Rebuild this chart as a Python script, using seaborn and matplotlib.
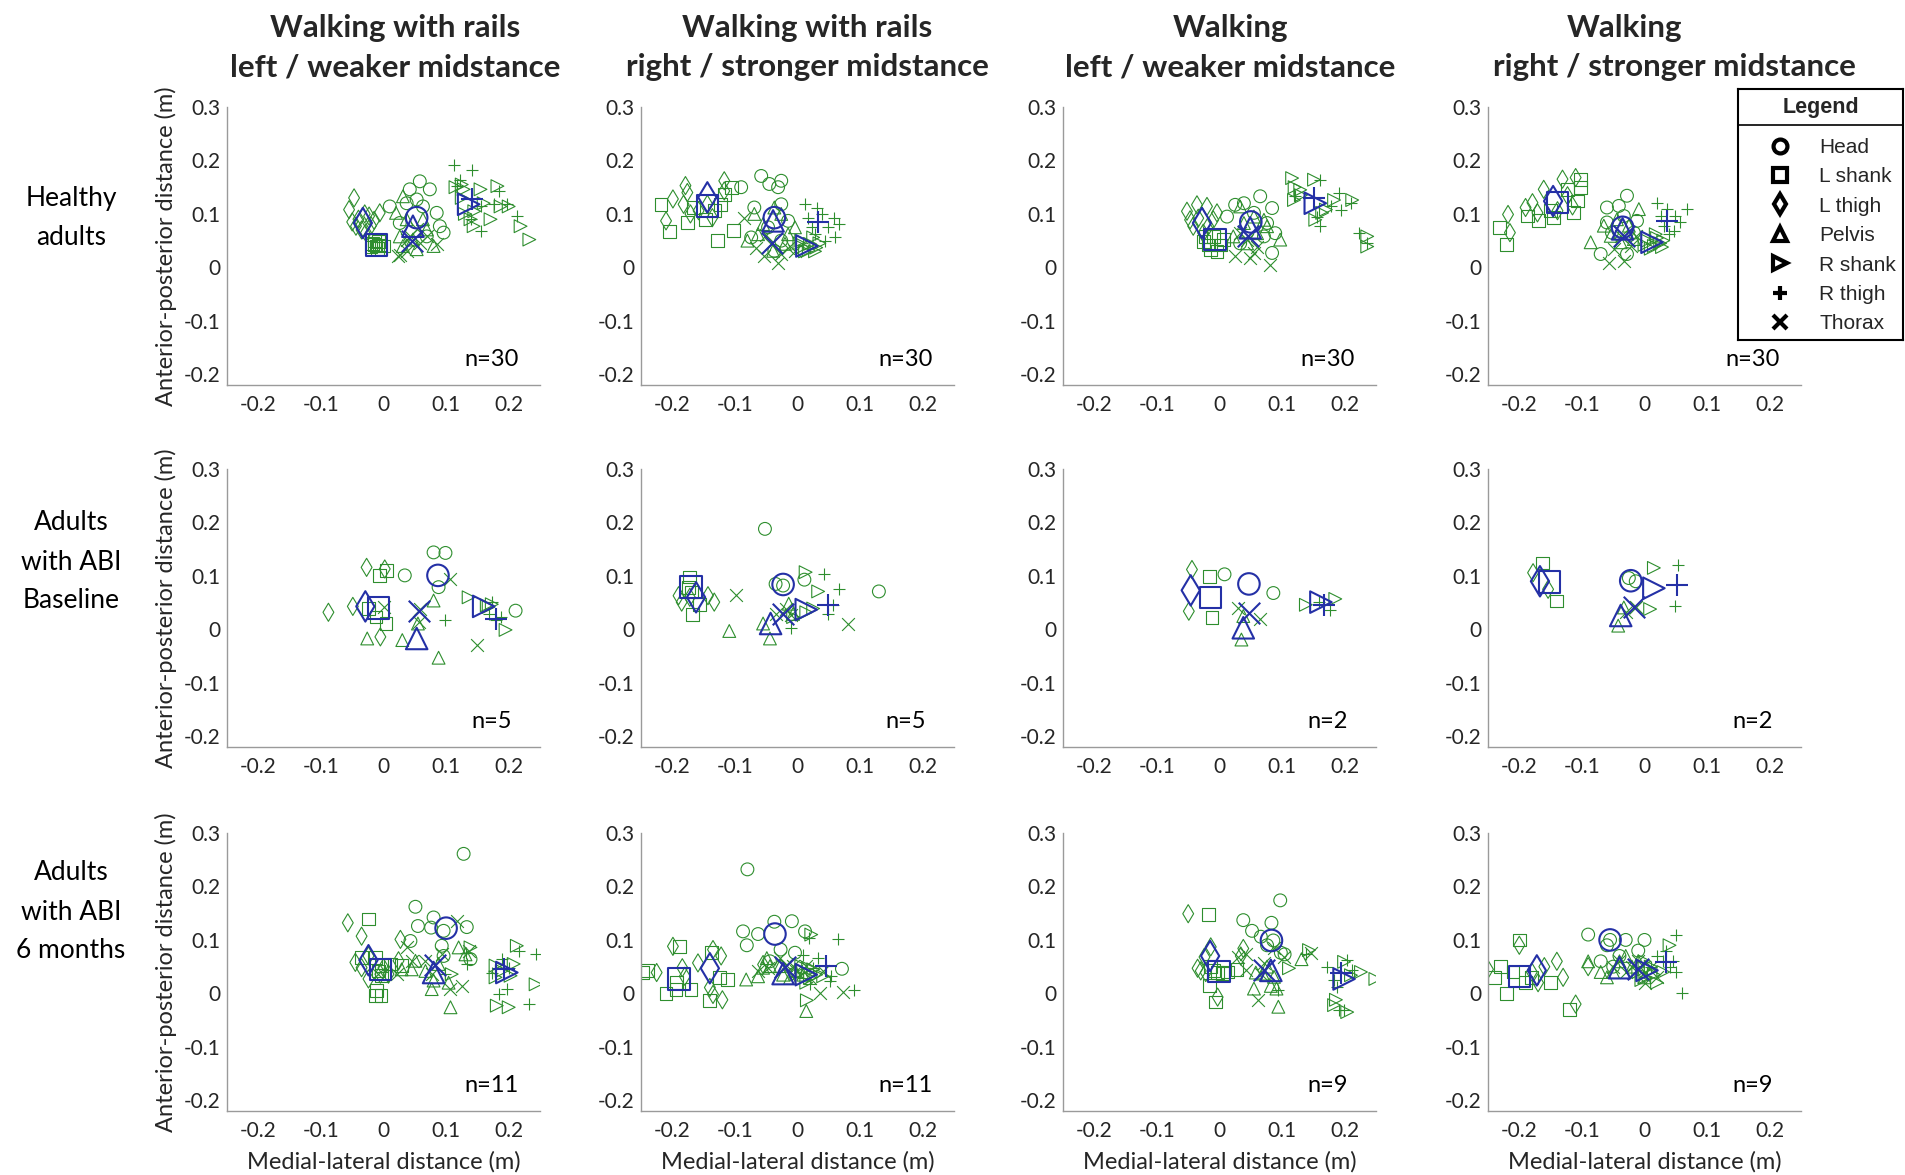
import matplotlib
matplotlib.use("Agg")
import matplotlib.pyplot as plt
from matplotlib.lines import Line2D
from matplotlib.ticker import FuncFormatter
import pandas as pd
import seaborn as sns

# ---- data ----
SEGMENTS = ["Head", "L shank", "L thigh", "Pelvis", "R shank", "R thigh", "Thorax"]
MARKERS = {"Head": "o", "L shank": "s", "L thigh": "d", "Pelvis": "^",
           "R shank": ">", "R thigh": "+", "Thorax": "x"}

COL_TITLES = [("Walking with rails", "left / weaker midstance"),
              ("Walking with rails", "right / stronger midstance"),
              ("Walking", "left / weaker midstance"),
              ("Walking", "right / stronger midstance")]
ROW_LABELS = ["Healthy\nadults", "Adults\nwith ABI\nBaseline", "Adults\nwith ABI\n6 months"]
N_LABELS = [[30, 30, 30, 30], [5, 5, 2, 2], [11, 11, 9, 9]]

# healthy adults
healthy_rails_left = {
    "Head": [(0.058, 0.161), (0.074, 0.146), (0.042, 0.146), (0.01, 0.114), (0.085, 0.102), (0.09, 0.077),
             (0.096, 0.065), (0.069, 0.058), (0.026, 0.083), (0.037, 0.12), (0.063, 0.114), (0.053, 0.127)],
    "L shank": [(-0.018, 0.045), (-0.012, 0.04), (-0.006, 0.042), (-0.015, 0.05), (0.0, 0.04), (-0.01, 0.035),
                (-0.02, 0.038), (-0.008, 0.048), (-0.004, 0.036), (-0.014, 0.043)],
    "L thigh": [(-0.047, 0.13), (-0.055, 0.108), (-0.044, 0.077), (-0.023, 0.096), (-0.006, 0.102), (-0.028, 0.065),
                (-0.04, 0.09), (-0.02, 0.078), (-0.05, 0.085), (-0.035, 0.07), (-0.03, 0.1), (-0.015, 0.088)],
    "Pelvis": [(0.031, 0.133), (0.026, 0.058), (0.053, 0.034), (0.08, 0.04), (0.037, 0.09), (0.02, 0.102),
               (0.063, 0.09), (0.047, 0.052), (0.031, 0.04), (0.069, 0.071)],
    "R shank": [(0.233, 0.052), (0.219, 0.077), (0.2, 0.114), (0.171, 0.09), (0.144, 0.077), (0.155, 0.146),
                (0.187, 0.114), (0.16, 0.12), (0.128, 0.146), (0.139, 0.09), (0.182, 0.152), (0.125, 0.13),
                (0.13, 0.1), (0.145, 0.105), (0.115, 0.15), (0.125, 0.155)],
    "R thigh": [(0.112, 0.192), (0.141, 0.183), (0.184, 0.142), (0.214, 0.096), (0.117, 0.152), (0.176, 0.118),
                (0.155, 0.114), (0.155, 0.068), (0.198, 0.118), (0.123, 0.164), (0.139, 0.09)],
    "Thorax": [(0.026, 0.024), (0.037, 0.03), (0.085, 0.043), (0.042, 0.058), (0.053, 0.071), (0.023, 0.021),
               (0.058, 0.046), (0.037, 0.052), (0.069, 0.058)],
}
healthy_rails_left_mean = {"Head": (0.053, 0.093), "L shank": (-0.011, 0.042), "L thigh": (-0.033, 0.083),
                           "Pelvis": (0.047, 0.077), "R shank": (0.136, 0.118), "R thigh": (0.141, 0.127),
                           "Thorax": (0.045, 0.05)}

healthy_rails_right = {
    "Head": [(-0.058, 0.171), (-0.045, 0.156), (-0.026, 0.162), (-0.031, 0.15), (-0.069, 0.112), (-0.026, 0.118),
             (-0.015, 0.087), (-0.074, 0.056), (-0.037, 0.031), (-0.09, 0.15), (-0.047, 0.075), (-0.026, 0.05)],
    "L shank": [(-0.218, 0.118), (-0.204, 0.067), (-0.176, 0.084), (-0.128, 0.05), (-0.102, 0.069), (-0.147, 0.09),
                (-0.133, 0.106), (-0.117, 0.137), (-0.106, 0.15), (-0.166, 0.112), (-0.123, 0.118)],
    "L thigh": [(-0.21, 0.087), (-0.199, 0.128), (-0.179, 0.153), (-0.176, 0.14), (-0.171, 0.1), (-0.136, 0.093),
                (-0.117, 0.162), (-0.117, 0.143), (-0.144, 0.118), (-0.182, 0.118), (-0.158, 0.106)],
    "Pelvis": [(-0.08, 0.05), (-0.063, 0.062), (-0.039, 0.031), (-0.015, 0.062), (-0.026, 0.1), (-0.055, 0.081),
               (-0.037, 0.112), (-0.004, 0.075), (-0.069, 0.1), (-0.02, 0.044)],
    "R shank": [(0.006, 0.05), (0.02, 0.044), (0.03, 0.037), (0.012, 0.03), (0.025, 0.056), (0.008, 0.038),
                (0.035, 0.045), (0.018, 0.032), (0.003, 0.045), (0.028, 0.03)],
    "R thigh": [(0.012, 0.118), (0.031, 0.112), (0.058, 0.093), (0.06, 0.056), (0.044, 0.05), (0.023, 0.075),
                (0.049, 0.075), (0.039, 0.1), (0.017, 0.093), (0.066, 0.081), (0.028, 0.062)],
    "Thorax": [(-0.085, 0.093), (-0.053, 0.022), (-0.031, 0.009), (-0.026, 0.025), (-0.015, 0.037), (-0.042, 0.044),
               (-0.004, 0.031), (-0.066, 0.037), (-0.05, 0.06)],
}
healthy_rails_right_mean = {"Head": (-0.037, 0.093), "L shank": (-0.144, 0.115), "L thigh": (-0.144, 0.131),
                            "Pelvis": (-0.039, 0.087), "R shank": (0.015, 0.04), "R thigh": (0.032, 0.084),
                            "Thorax": (-0.04, 0.045)}

healthy_walk_left = {
    "Head": [(0.025, 0.117), (0.039, 0.12), (0.065, 0.133), (0.084, 0.111), (0.089, 0.064), (0.084, 0.027),
             (0.012, 0.095), (0.055, 0.102), (0.071, 0.058), (0.033, 0.045), (0.076, 0.083)],
    "L shank": [(-0.026, 0.049), (-0.015, 0.033), (0.001, 0.042), (-0.01, 0.058), (-0.018, 0.042), (-0.004, 0.03),
                (0.006, 0.052), (-0.023, 0.058)],
    "L thigh": [(-0.052, 0.105), (-0.036, 0.117), (-0.02, 0.114), (-0.042, 0.077), (-0.026, 0.064), (-0.01, 0.089),
                (-0.004, 0.102), (-0.034, 0.092), (-0.018, 0.077), (-0.047, 0.089)],
    "Pelvis": [(0.033, 0.114), (0.071, 0.089), (0.097, 0.052), (0.022, 0.058), (0.044, 0.045), (0.055, 0.095),
               (0.039, 0.083), (0.06, 0.064), (0.076, 0.077)],
    "R shank": [(0.116, 0.167), (0.119, 0.126), (0.151, 0.164), (0.164, 0.102), (0.153, 0.089), (0.183, 0.126),
                (0.212, 0.126), (0.236, 0.058), (0.236, 0.039), (0.17, 0.108), (0.129, 0.145), (0.12, 0.15),
                (0.13, 0.135)],
    "R thigh": [(0.161, 0.164), (0.191, 0.139), (0.194, 0.108), (0.161, 0.077), (0.223, 0.064), (0.236, 0.045),
                (0.121, 0.133), (0.178, 0.114), (0.156, 0.095), (0.21, 0.12)],
    "Thorax": [(0.025, 0.021), (0.049, 0.017), (0.081, 0.005), (0.044, 0.052), (0.033, 0.064), (0.06, 0.039),
               (0.055, 0.027)],
}
healthy_walk_left_mean = {"Head": (0.05, 0.085), "L shank": (-0.007, 0.052), "L thigh": (-0.028, 0.083),
                          "Pelvis": (0.049, 0.074), "R shank": (0.153, 0.12), "R thigh": (0.151, 0.13),
                          "Thorax": (0.046, 0.058)}

healthy_walk_right = {
    "Head": [(-0.028, 0.134), (-0.06, 0.112), (-0.041, 0.115), (-0.012, 0.087), (-0.07, 0.025), (-0.028, 0.025),
             (-0.052, 0.065), (-0.017, 0.065), (-0.06, 0.084), (-0.033, 0.096)],
    "L shank": [(-0.231, 0.075), (-0.22, 0.043), (-0.187, 0.096), (-0.169, 0.087), (-0.145, 0.093), (-0.113, 0.102),
                (-0.102, 0.165), (-0.102, 0.149), (-0.107, 0.124), (-0.123, 0.146), (-0.15, 0.106)],
    "L thigh": [(-0.218, 0.099), (-0.215, 0.065), (-0.19, 0.112), (-0.179, 0.121), (-0.161, 0.146), (-0.131, 0.165),
                (-0.11, 0.168), (-0.123, 0.134), (-0.139, 0.106), (-0.171, 0.102), (-0.115, 0.115)],
    "Pelvis": [(-0.086, 0.047), (-0.065, 0.078), (-0.009, 0.109), (-0.044, 0.09), (-0.017, 0.053), (-0.038, 0.047),
               (-0.054, 0.059), (-0.025, 0.078)],
    "R shank": [(0.005, 0.05), (0.015, 0.04), (0.025, 0.045), (0.02, 0.055), (0.01, 0.035), (0.03, 0.05),
                (0.0, 0.042), (0.018, 0.062), (0.028, 0.038)],
    "R thigh": [(0.02, 0.121), (0.036, 0.109), (0.068, 0.109), (0.049, 0.096), (0.047, 0.068), (0.031, 0.078),
                (0.026, 0.096), (0.057, 0.084), (0.039, 0.062)],
    "Thorax": [(-0.057, 0.009), (-0.033, 0.012), (-0.049, 0.034), (-0.022, 0.04), (-0.038, 0.059), (-0.014, 0.059)],
}
healthy_walk_right_mean = {"Head": (-0.035, 0.075), "L shank": (-0.139, 0.121), "L thigh": (-0.146, 0.124),
                           "Pelvis": (-0.035, 0.072), "R shank": (0.012, 0.047), "R thigh": (0.036, 0.087),
                           "Thorax": (-0.033, 0.059)}

# adults with ABI, baseline
abi_base_rails_left = {
    "Head": [(0.08, 0.144), (0.099, 0.143), (0.034, 0.101), (0.088, 0.079), (0.211, 0.035)],
    "L shank": [(-0.007, 0.101), (0.005, 0.11), (-0.024, 0.039), (-0.012, 0.023), (0.004, 0.011)],
    "L thigh": [(-0.027, 0.116), (0.002, 0.113), (-0.088, 0.032), (-0.049, 0.043), (-0.005, -0.014)],
    "Pelvis": [(-0.026, -0.017), (0.03, -0.02), (0.055, 0.011), (0.08, 0.054), (0.088, -0.053)],
    "R shank": [(0.136, 0.06), (0.165, 0.045), (0.195, -0.001), (0.168, 0.042), (0.173, 0.047)],
    "R thigh": [(0.099, 0.018), (0.173, 0.051), (0.179, 0.017), (0.187, 0.023), (0.168, 0.029)],
    "Thorax": [(0.107, 0.094), (0.149, -0.03), (0.059, 0.039), (0.056, 0.014), (0.0, 0.042)],
}
abi_base_rails_left_mean = {"Head": (0.087, 0.101), "L shank": (-0.008, 0.04), "L thigh": (-0.029, 0.043),
                            "Pelvis": (0.053, -0.017), "R shank": (0.16, 0.043), "R thigh": (0.179, 0.019),
                            "Thorax": (0.056, 0.035)}

abi_base_rails_right = {
    "Head": [(-0.052, 0.188), (-0.035, 0.085), (-0.023, 0.082), (0.011, 0.093), (0.13, 0.071)],
    "L shank": [(-0.172, 0.098), (-0.174, 0.079), (-0.168, 0.028), (-0.156, 0.046), (-0.169, 0.07)],
    "L thigh": [(-0.19, 0.063), (-0.185, 0.051), (-0.143, 0.063), (-0.133, 0.051), (-0.172, 0.06)],
    "Pelvis": [(-0.109, -0.003), (-0.044, -0.017), (-0.055, 0.011), (-0.014, 0.048), (-0.007, 0.029)],
    "R shank": [(0.013, 0.107), (0.033, 0.071), (0.014, 0.032), (-0.007, 0.023), (0.025, 0.039)],
    "R thigh": [(0.042, 0.104), (0.066, 0.076), (0.049, 0.028), (-0.011, 0.003), (0.057, 0.045)],
    "Thorax": [(-0.098, 0.065), (0.081, 0.011), (-0.034, 0.029), (-0.01, 0.026), (-0.018, 0.039)],
}
abi_base_rails_right_mean = {"Head": (-0.023, 0.084), "L shank": (-0.17, 0.079), "L thigh": (-0.162, 0.06),
                             "Pelvis": (-0.043, 0.011), "R shank": (0.014, 0.037), "R thigh": (0.049, 0.046),
                             "Thorax": (-0.023, 0.029)}

abi_base_walk_left = {
    "Head": [(0.008, 0.103), (0.086, 0.068)],
    "L shank": [(-0.016, 0.099), (-0.012, 0.022)],
    "L thigh": [(-0.044, 0.112), (-0.049, 0.034)],
    "Pelvis": [(0.035, -0.019), (0.038, 0.025)],
    "R shank": [(0.138, 0.046), (0.185, 0.057)],
    "R thigh": [(0.159, 0.052), (0.177, 0.037)],
    "Thorax": [(0.03, 0.04), (0.064, 0.019)],
}
abi_base_walk_left_mean = {"Head": (0.047, 0.085), "L shank": (-0.014, 0.06), "L thigh": (-0.046, 0.073),
                           "Pelvis": (0.038, 0.003), "R shank": (0.162, 0.051), "R thigh": (0.167, 0.046),
                           "Thorax": (0.047, 0.03)}

abi_base_walk_right = {
    "Head": [(-0.025, 0.096), (-0.014, 0.09)],
    "L shank": [(-0.163, 0.124), (-0.141, 0.053)],
    "L thigh": [(-0.178, 0.106), (-0.154, 0.075)],
    "Pelvis": [(-0.042, 0.007), (-0.033, 0.041)],
    "R shank": [(0.015, 0.115), (0.009, 0.038)],
    "R thigh": [(0.053, 0.121), (0.049, 0.044)],
    "Thorax": [(-0.014, 0.041), (-0.03, 0.032)],
}
abi_base_walk_right_mean = {"Head": (-0.022, 0.091), "L shank": (-0.152, 0.089), "L thigh": (-0.167, 0.09),
                            "Pelvis": (-0.038, 0.026), "R shank": (0.015, 0.077), "R thigh": (0.052, 0.083),
                            "Thorax": (-0.017, 0.042)}

# adults with ABI, 6 months
abi_6m_rails_left = {
    "Head": [(0.128, 0.261), (0.051, 0.162), (0.08, 0.142), (0.055, 0.126), (0.076, 0.123), (0.133, 0.124),
             (0.043, 0.098), (0.093, 0.089), (0.096, 0.07), (0.139, 0.064), (0.096, 0.117)],
    "L shank": [(-0.024, 0.139), (-0.013, 0.067), (-0.003, 0.052), (-0.008, 0.042), (-0.011, 0.005), (-0.004, -0.004),
                (-0.013, -0.004), (0.029, 0.052), (0.011, 0.055), (-0.003, 0.033), (-0.035, 0.067)],
    "L thigh": [(-0.057, 0.132), (-0.035, 0.107), (0.027, 0.101), (-0.045, 0.058), (-0.024, 0.027), (-0.005, 0.036),
                (0.008, 0.036), (-0.035, 0.048), (0.024, 0.061), (-0.024, 0.07), (0.0, 0.048)],
    "Pelvis": [(0.107, -0.026), (0.12, 0.086), (0.051, 0.061), (0.029, 0.045), (0.045, 0.045), (0.077, 0.008),
               (0.104, 0.02), (0.088, 0.055), (0.067, 0.042), (0.08, 0.024), (0.131, 0.073)],
    "R shank": [(0.213, 0.089), (0.243, 0.017), (0.181, -0.023), (0.2, -0.026), (0.179, 0.052), (0.179, 0.03),
                (0.139, 0.086), (0.109, 0.036), (0.208, 0.055), (0.189, 0.042), (0.203, 0.033)],
    "R thigh": [(0.243, 0.073), (0.216, 0.08), (0.232, -0.02), (0.184, -0.001), (0.197, 0.008), (0.131, 0.076),
                (0.133, 0.055), (0.173, 0.039), (0.2, 0.048), (0.189, 0.064), (0.099, 0.036)],
    "Thorax": [(0.117, 0.135), (0.037, 0.086), (0.125, 0.014), (0.107, 0.008), (0.077, 0.036), (0.067, 0.061),
               (0.045, 0.061), (0.093, 0.073), (0.136, 0.08), (0.021, 0.036), (-0.008, 0.036)],
}
abi_6m_rails_left_mean = {"Head": (0.1, 0.122), "L shank": (-0.005, 0.045), "L thigh": (-0.024, 0.062),
                          "Pelvis": (0.08, 0.039), "R shank": (0.197, 0.039), "R thigh": (0.192, 0.045),
                          "Thorax": (0.082, 0.053)}

abi_6m_rails_right = {
    "Head": [(-0.08, 0.232), (-0.087, 0.116), (-0.081, 0.09), (-0.063, 0.111), (-0.037, 0.134), (-0.009, 0.135),
             (-0.027, 0.082), (-0.004, 0.076), (0.012, 0.116), (0.071, 0.046), (-0.044, 0.06)],
    "L shank": [(-0.247, 0.039), (-0.24, 0.043), (-0.21, 0.0), (-0.194, 0.007), (-0.17, 0.007), (-0.189, 0.087),
                (-0.137, 0.076), (-0.14, -0.014), (-0.124, 0.029), (-0.112, 0.026), (-0.193, 0.02)],
    "L thigh": [(-0.225, 0.039), (-0.199, 0.088), (-0.184, 0.048), (-0.18, 0.032), (-0.159, 0.057), (-0.14, 0.011),
                (-0.135, -0.002), (-0.12, -0.012), (-0.122, 0.07), (-0.135, 0.082), (-0.055, 0.054)],
    "Pelvis": [(-0.082, 0.026), (-0.063, 0.032), (-0.049, 0.066), (-0.055, 0.048), (-0.023, 0.035), (-0.012, 0.029),
               (0.014, -0.033), (-0.044, 0.051), (-0.004, 0.042), (-0.028, 0.051), (0.009, 0.035)],
    "R shank": [(0.022, 0.11), (0.015, -0.013), (0.014, 0.02), (0.03, 0.035), (0.009, 0.042), (0.02, 0.029),
                (-0.002, 0.035), (0.041, 0.032), (0.017, 0.048), (0.006, 0.051), (0.025, 0.045)],
    "R thigh": [(0.019, 0.104), (0.065, 0.101), (0.009, 0.071), (0.091, 0.006), (0.054, 0.032), (0.046, 0.051),
                (0.02, 0.017), (0.033, 0.066), (0.052, 0.023), (0.009, 0.029), (0.025, 0.048)],
    "Thorax": [(0.073, 0.003), (0.036, 0.0), (-0.063, 0.042), (-0.028, 0.066), (-0.002, 0.042), (0.014, 0.051),
               (-0.047, 0.048), (-0.018, 0.054), (0.02, 0.029), (0.041, 0.042), (-0.007, 0.051)],
}
abi_6m_rails_right_mean = {"Head": (-0.036, 0.111), "L shank": (-0.189, 0.027), "L thigh": (-0.14, 0.047),
                           "Pelvis": (-0.023, 0.037), "R shank": (0.014, 0.035), "R thigh": (0.046, 0.051),
                           "Thorax": (-0.02, 0.05)}

abi_6m_walk_left = {
    "Head": [(0.097, 0.174), (0.038, 0.137), (0.052, 0.117), (0.083, 0.132), (0.086, 0.099), (0.098, 0.076),
             (0.104, 0.073), (0.076, 0.09), (0.066, 0.106)],
    "L shank": [(-0.018, 0.148), (-0.016, 0.014), (-0.007, -0.016), (-0.003, 0.039), (0.013, 0.04), (0.028, 0.045),
                (-0.009, 0.043), (0.005, 0.037), (-0.014, 0.05)],
    "L thigh": [(-0.05, 0.149), (-0.014, 0.087), (-0.03, 0.042), (-0.022, 0.039), (-0.003, -0.007), (0.034, 0.07),
                (0.038, 0.084), (-0.024, 0.068), (-0.035, 0.047)],
    "Pelvis": [(0.055, 0.009), (0.094, -0.025), (0.058, 0.039), (0.082, 0.014), (0.091, 0.009), (0.131, 0.064),
               (0.076, 0.05), (0.069, 0.037), (0.087, 0.031)],
    "R shank": [(0.143, 0.081), (0.111, 0.047), (0.249, 0.027), (0.226, 0.04), (0.186, -0.012), (0.204, -0.035),
                (0.199, 0.059), (0.183, -0.022), (0.21, 0.034)],
    "R thigh": [(0.138, 0.073), (0.204, 0.062), (0.191, -0.031), (0.199, -0.031), (0.188, 0.012), (0.183, 0.025),
                (0.212, 0.043), (0.093, 0.006), (0.172, 0.05)],
    "Thorax": [(0.042, 0.073), (0.042, 0.043), (0.061, -0.012), (0.087, 0.084), (0.071, 0.056), (0.146, 0.075),
               (0.029, 0.068), (0.066, 0.037), (0.103, 0.068)],
}
abi_6m_walk_left_mean = {"Head": (0.083, 0.099), "L shank": (-0.001, 0.041), "L thigh": (-0.015, 0.07),
                         "Pelvis": (0.082, 0.043), "R shank": (0.199, 0.027), "R thigh": (0.194, 0.039),
                         "Thorax": (0.071, 0.043)}

abi_6m_walk_right = {
    "Head": [(-0.055, 0.1), (-0.09, 0.11), (-0.06, 0.09), (-0.03, 0.1), (-0.01, 0.08), (-0.04, 0.07),
             (-0.07, 0.06), (0.0, 0.1), (-0.05, 0.05)],
    "L shank": [(-0.24, 0.03), (-0.22, 0.0), (-0.2, 0.1), (-0.18, 0.03), (-0.12, -0.03), (-0.21, 0.04),
                (-0.19, 0.02), (-0.15, 0.02), (-0.23, 0.05)],
    "L thigh": [(-0.25, 0.045), (-0.2, 0.09), (-0.16, 0.05), (-0.11, -0.02), (-0.13, 0.03), (-0.18, 0.04),
                (-0.14, 0.06), (-0.09, 0.05), (-0.17, 0.02)],
    "Pelvis": [(-0.09, 0.06), (-0.06, 0.03), (-0.04, 0.06), (-0.02, 0.05), (-0.05, 0.04), (0.0, 0.03),
               (-0.03, 0.07), (-0.07, 0.04), (-0.01, 0.06)],
    "R shank": [(0.04, 0.09), (0.0, 0.03), (0.01, 0.05), (-0.01, 0.04), (0.02, 0.02), (0.03, 0.04),
                (0.0, 0.06), (0.015, 0.035), (-0.005, 0.025)],
    "R thigh": [(0.05, 0.11), (0.06, 0.0), (0.03, 0.06), (0.04, 0.05), (0.02, 0.07), (0.05, 0.04),
                (0.01, 0.05), (0.035, 0.08), (0.045, 0.06)],
    "Thorax": [(-0.02, 0.05), (0.0, 0.04), (-0.04, 0.06), (0.01, 0.05), (-0.03, 0.04), (0.02, 0.03),
               (-0.01, 0.06), (0.0, 0.02), (-0.05, 0.05)],
}
abi_6m_walk_right_mean = {"Head": (-0.055, 0.1), "L shank": (-0.2, 0.032), "L thigh": (-0.172, 0.043),
                          "Pelvis": (-0.04, 0.048), "R shank": (0.004, 0.043), "R thigh": (0.035, 0.059),
                          "Thorax": (-0.01, 0.045)}

PANELS = [
    [(healthy_rails_left, healthy_rails_left_mean), (healthy_rails_right, healthy_rails_right_mean),
     (healthy_walk_left, healthy_walk_left_mean), (healthy_walk_right, healthy_walk_right_mean)],
    [(abi_base_rails_left, abi_base_rails_left_mean), (abi_base_rails_right, abi_base_rails_right_mean),
     (abi_base_walk_left, abi_base_walk_left_mean), (abi_base_walk_right, abi_base_walk_right_mean)],
    [(abi_6m_rails_left, abi_6m_rails_left_mean), (abi_6m_rails_right, abi_6m_rails_right_mean),
     (abi_6m_walk_left, abi_6m_walk_left_mean), (abi_6m_walk_right, abi_6m_walk_right_mean)],
]

GREEN = "#2e8e2e"
BLUE = "#2430a6"
AXIS_GREY = "#9a9a9a"
TEXT = "#262626"

sns.set_style("white")
plt.rcParams["font.family"] = ["Lato", "DejaVu Sans"]


def draw_points(ax, x, y, marker, color, size, lw):
    """Hollow markers for filled shapes, plain strokes for + and x."""
    if marker in ("+", "x"):
        kw = dict(color=color)
    else:
        kw = dict(color=color, facecolor="none", edgecolor=color)
    sns.scatterplot(x=x, y=y, marker=marker, s=size, linewidth=lw, ax=ax, legend=False, **kw)


def style_axes(ax):
    fmt = FuncFormatter(lambda v, _: "0" if abs(v) < 1e-9 else f"{v:.1f}")
    ax.set_xlim(-0.25, 0.25)
    ax.set_ylim(-0.22, 0.30)
    ax.set_xticks([-0.2, -0.1, 0, 0.1, 0.2])
    ax.set_yticks([-0.2, -0.1, 0, 0.1, 0.2, 0.3])
    ax.xaxis.set_major_formatter(fmt)
    ax.yaxis.set_major_formatter(fmt)
    for side in ("top", "right"):
        ax.spines[side].set_visible(False)
    for side in ("left", "bottom"):
        ax.spines[side].set_color(AXIS_GREY)
        ax.spines[side].set_linewidth(1.0)
    ax.tick_params(direction="in", length=4, width=0.8, color=AXIS_GREY,
                   labelsize=15, labelcolor=TEXT)
    ax.tick_params(axis="x", pad=7)
    ax.tick_params(axis="y", pad=5)
    ax.set_xlabel("")
    ax.set_ylabel("")


fig = plt.figure(figsize=(19.05, 11.75), dpi=100)

col_left = [227, 641, 1063, 1488]
row_bottom = [385, 747, 1111]
ax_w, ax_h = 313, 278

for r in range(3):
    for c in range(4):
        ax = fig.add_axes([col_left[c] / 1905, 1 - row_bottom[r] / 1175, ax_w / 1905, ax_h / 1175])
        pts, means = PANELS[r][c]
        for seg in SEGMENTS:
            df = pd.DataFrame(pts[seg], columns=["x", "y"])
            draw_points(ax, df["x"], df["y"], MARKERS[seg], GREEN, 85, 0.8)
        for seg in SEGMENTS:
            mx, my = means[seg]
            draw_points(ax, [mx], [my], MARKERS[seg], BLUE, 240, 1.5)
        style_axes(ax)
        ax.text(0.845, 0.09, f"n={N_LABELS[r][c]}", transform=ax.transAxes,
                ha="center", va="center", fontsize=17, color="black")
        if c == 0:
            ax.set_ylabel("Anterior-posterior distance (m)", fontsize=17, color=TEXT)
            ax.yaxis.set_label_coords(-0.16, 0.5)
        if r == 2:
            ax.set_xlabel("Medial-lateral distance (m)", fontsize=17, color=TEXT)
            ax.xaxis.set_label_coords(0.5, -0.143)

# column titles
title_x = [(395, 395), (807, 807), (1230, 1230), (1624, 1674)]
for (l1, l2), (x1, x2) in zip(COL_TITLES, title_x):
    fig.text(x1 / 1905, 1 - 28 / 1175, l1, ha="center", va="center", fontsize=22.5, fontweight="bold")
    fig.text(x2 / 1905, 1 - 67 / 1175, l2, ha="center", va="center", fontsize=22.5, fontweight="bold")

# row labels
row_y = [218, 562, 912]
for lab, y in zip(ROW_LABELS, row_y):
    fig.text(71 / 1905, 1 - y / 1175, lab, ha="center", va="center", fontsize=19,
             linespacing=1.7, color="black")

# legend box
lax = fig.add_axes([1738 / 1905, 1 - 340 / 1175, 165 / 1905, 251 / 1175])
lax.set_xticks([])
lax.set_yticks([])
for sp in lax.spines.values():
    sp.set_color("black")
    sp.set_linewidth(1.5)
lax.axhline(0.857, color="black", lw=1.2)
lax.text(0.5, 0.925, "Legend", transform=lax.transAxes, ha="center", va="center",
         fontsize=15.5, fontweight="bold", family=["Liberation Sans", "DejaVu Sans"])
handles = [Line2D([], [], marker=MARKERS[s], color="black", linestyle="none", markersize=10,
                  markeredgewidth=3, markerfacecolor="none") for s in SEGMENTS]
leg = lax.legend(handles, SEGMENTS, loc="upper left", bbox_to_anchor=(0.1, 0.855), frameon=False,
                 prop={"family": ["Liberation Sans", "DejaVu Sans"], "size": 15},
                 labelspacing=0.5, handletextpad=1.3, borderaxespad=0.2, handlelength=1.2)

fig.savefig("out.png", dpi=100)
